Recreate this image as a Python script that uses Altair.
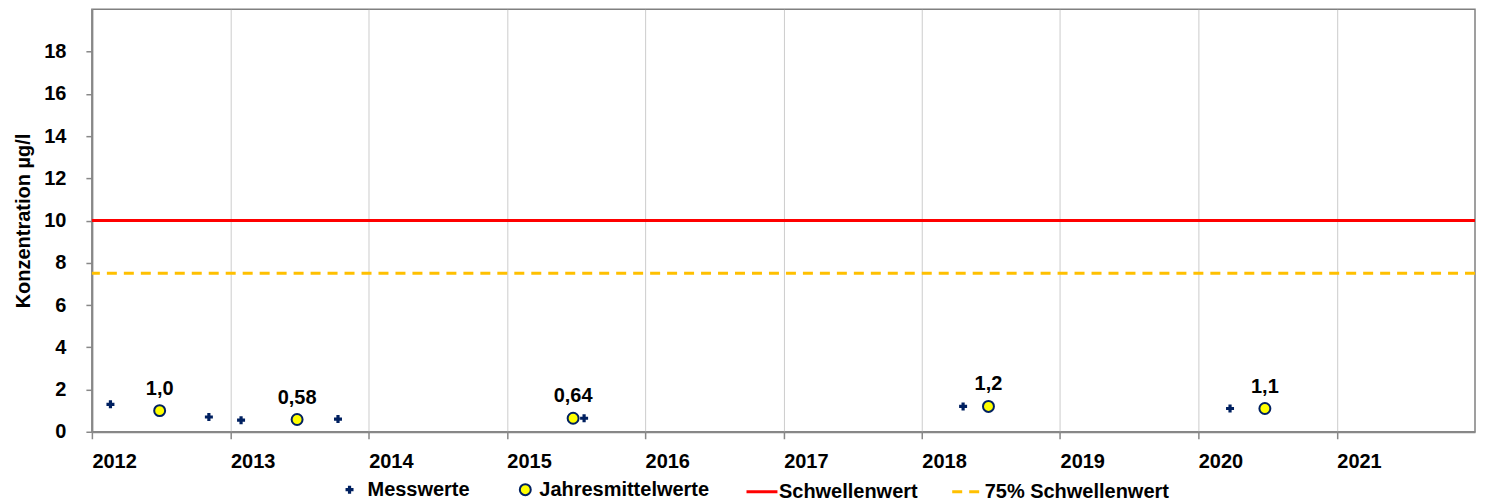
import altair as alt
import pandas as pd

# Messwerte (single measurements)
mess_dates = ["2012-02-19", "2012-11-05", "2013-01-29", "2013-10-12",
              "2015-07-24", "2018-04-20", "2020-03-25"]
mess_values = [1.3, 0.7, 0.55, 0.6, 0.64, 1.2, 1.1]

# Jahresmittelwerte (annual means)
mean_dates = ["2012-06-28", "2013-06-26", "2015-06-25", "2018-06-26", "2020-06-25"]
mean_values = [1.0, 0.58, 0.64, 1.2, 1.1]

# thresholds
threshold_names = ["Schwellenwert", "75% Schwellenwert"]
threshold_values = [10.0, 7.5]
threshold_colors = ["#FF0000", "#FFC000"]

year_ticks = [2012, 2013, 2014, 2015, 2016, 2017, 2018, 2019, 2020, 2021]
y_ticks = [0, 2, 4, 6, 8, 10, 12, 14, 16, 18]

FONT = "Liberation Sans"
NAVY = "#002060"
YELLOW = "#FFFF00"

mess_df = pd.DataFrame({"date": mess_dates, "value": mess_values, "series": "Messwerte"})
mean_df = pd.DataFrame({"date": mean_dates, "value": mean_values, "series": "Jahresmittelwerte"})
thr_df = pd.DataFrame({"value": threshold_values, "series": threshold_names})

legend_common = dict(
    title=None,
    orient="none",
    direction="horizontal",
    labelFont=FONT,
    labelFontSize=20,
    labelFontWeight="bold",
    labelColor="#000000",
    labelLimit=0,
    padding=0,
)

x_scale = alt.Scale(type="utc", domain=[alt.DateTime(year=2012, month=1, date=1, utc=True),
                                        alt.DateTime(year=2022, month=1, date=1, utc=True)])
x_enc = alt.X(
    "date:T",
    scale=x_scale,
    axis=alt.Axis(
        title=None,
        values=[alt.DateTime(year=y, month=1, date=1, utc=True) for y in year_ticks],
        labelExpr="utcFormat(datum.value, '%Y')",
        labelAlign="left",
        labelFont=FONT,
        labelFontSize=20,
        labelFontWeight="bold",
        labelColor="#000000",
        labelPadding=13,
        tickSize=7,
        tickColor="#888888",
        tickWidth=1.5,
        domainColor="#888888",
        domainWidth=2,
        grid=True,
        gridColor="#cccccc",
        gridWidth=1,
    ),
)
y_scale = alt.Scale(domain=[0, 20], nice=False)
y_axis = alt.Axis(
    title="Konzentration µg/l",
    values=y_ticks,
    grid=False,
    labelFont=FONT,
    labelFontSize=20,
    labelFontWeight="bold",
    labelColor="#000000",
    labelPadding=20,
    tickSize=6,
    tickColor="#888888",
    tickWidth=1.5,
    domainColor="#888888",
    domainWidth=2,
    titleFont=FONT,
    titleFontSize=20,
    titleFontWeight="bold",
    titleColor="#000000",
    titlePadding=10,
)
y_enc = alt.Y("value:Q", scale=y_scale, axis=y_axis)

thr_legend = dict(legendX=654, legendY=466, symbolSize=961,
                  symbolStrokeWidth=3, labelOffset=0, columnPadding=28,
                  columns=2, **legend_common)

rules = alt.Chart(thr_df).mark_rule(strokeWidth=3).encode(
    y=y_enc,
    stroke=alt.Stroke(
        "series:N",
        scale=alt.Scale(domain=threshold_names, range=threshold_colors),
        legend=alt.Legend(**thr_legend),
    ),
    strokeDash=alt.StrokeDash(
        "series:N",
        scale=alt.Scale(domain=threshold_names, range=[[1, 0], [10, 7]]),
        legend=alt.Legend(**thr_legend),
    ),
)

mess_pts = alt.Chart(mess_df).mark_point(filled=True, size=64, opacity=1, color=NAVY).encode(
    x=x_enc,
    y=y_enc,
    shape=alt.Shape(
        "series:N",
        scale=alt.Scale(domain=["Messwerte"], range=["cross"]),
        legend=alt.Legend(legendX=248, legendY=471, symbolSize=64,
                          symbolFillColor=NAVY, labelOffset=8, **legend_common),
    ),
)

mean_pts = alt.Chart(mean_df).mark_point(shape="circle", filled=True, size=120, opacity=1,
                                         stroke=NAVY, strokeWidth=2).encode(
    x=x_enc,
    y=y_enc,
    fill=alt.Fill(
        "series:N",
        scale=alt.Scale(domain=["Jahresmittelwerte"], range=[YELLOW]),
        legend=alt.Legend(legendX=424, legendY=471, symbolSize=120, symbolType="circle",
                          symbolStrokeColor=NAVY, symbolStrokeWidth=2,
                          labelOffset=4, **legend_common),
    ),
)

mean_labels = alt.Chart(mean_df).transform_calculate(
    label="replace(format(datum.value, '.2r'), '.', ',')"
).mark_text(font=FONT, fontSize=20, fontWeight="bold", color="#000000",
            baseline="alphabetic", dy=-16).encode(
    x=x_enc,
    y=y_enc,
    text="label:N",
)

chart = alt.layer(rules, mess_pts, mean_pts, mean_labels).properties(
    width=1385,
    height=423,
    padding={"left": 5, "top": 1, "right": 0, "bottom": 0},
    background="#ffffff",
).configure_view(
    stroke="#808080",
    strokeWidth=1.5,
)

chart.save("out.html", embed_options={"renderer": "svg", "actions": False})
